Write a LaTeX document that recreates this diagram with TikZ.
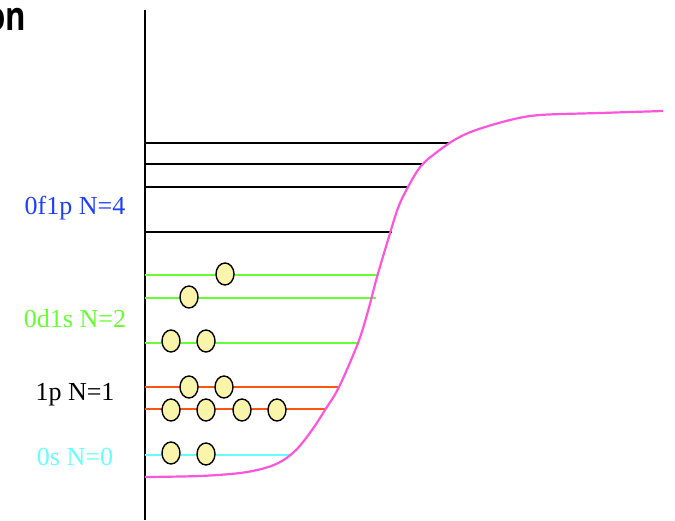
\documentclass[tikz,border=0pt]{standalone}
\usepackage{fontspec}
\setmainfont{Liberation Serif}
\newfontfamily\titlefont{Open Sans}
\definecolor{lvlblue}{HTML}{1F3FFF}
\definecolor{lvlgreen}{HTML}{66FF33}
\definecolor{lvlorange}{HTML}{FF5511}
\definecolor{lvlcyan}{HTML}{66FFFF}
\definecolor{wellpink}{HTML}{FF55DD}
\definecolor{nucfill}{HTML}{FAF5AA}
\usetikzlibrary{shapes.geometric}
\tikzset{
  level/.style={line width=1.3pt},
  nucleon/.style={ellipse, draw=black, line width=1.4pt, fill=nucfill, minimum width=18pt, minimum height=22pt, inner sep=0pt},
  lab/.style={font=\fontsize{26}{30}\selectfont, anchor=center},
}
\begin{document}
\begin{tikzpicture}[x=1pt,y=-1pt]
\useasboundingbox (0,0) rectangle (675,520);
% title fragment
\node[anchor=east, inner sep=0pt, xscale=0.78, font=\titlefont\bfseries\fontsize{40}{44}\selectfont] (title) at (26,20) {on};
% axis
\draw[line width=2pt] (145,10) -- (145,520);
% energy levels
\draw[level, black] (145,143) -- (450,143);
\draw[level, black] (145,164) -- (422,164);
\draw[level, black] (145,187) -- (409,187);
\draw[level, black] (145,232) -- (392,232);
\draw[level, lvlgreen] (145,275) -- (377,275);
\draw[level, lvlgreen] (145,298) -- (376,298);
\draw[level, lvlgreen] (145,343) -- (358,343);
\draw[level, lvlorange] (145,387) -- (340,387);
\draw[level, lvlorange] (145,409) -- (325,409);
\draw[level, lvlcyan] (145,455) -- (292,455);
% potential well
\draw[wellpink, line width=2.2pt] plot[smooth, tension=0.55] coordinates {
 (145,477) (200,476) (240,473) (265,468) (282,461) (297,449) (312,430) (325,410)
 (339,387) (358,343) (368,311) (377,277) (388,240) (398,208) (408,187)
 (421,166) (437,152) (456,139) (476,130) (510,120) (540,115) (600,113) (663,111)};
% labels
\node[lab, text=lvlblue] (l4) at (75,208) {0f1p N=4};
\node[lab, text=lvlgreen] (l2) at (75,319) {0d1s N=2};
\node[lab, text=black] (l1) at (75,395) {1p N=1};
\node[lab, text=lvlcyan] (l0) at (75,457) {0s N=0};
% nucleons
\node[nucleon] (n1) at (225,274) {};
\node[nucleon] (n2) at (189,297) {};
\node[nucleon] (n3) at (171,341) {};
\node[nucleon] (n4) at (206,341) {};
\node[nucleon] (n5) at (189,387) {};
\node[nucleon] (n6) at (224,387) {};
\node[nucleon] (n7) at (171,410) {};
\node[nucleon] (n8) at (206,410) {};
\node[nucleon] (n9) at (242,410) {};
\node[nucleon] (n10) at (277,410) {};
\node[nucleon] (n11) at (171,453) {};
\node[nucleon] (n12) at (206,454) {};
\end{tikzpicture}
\end{document}
